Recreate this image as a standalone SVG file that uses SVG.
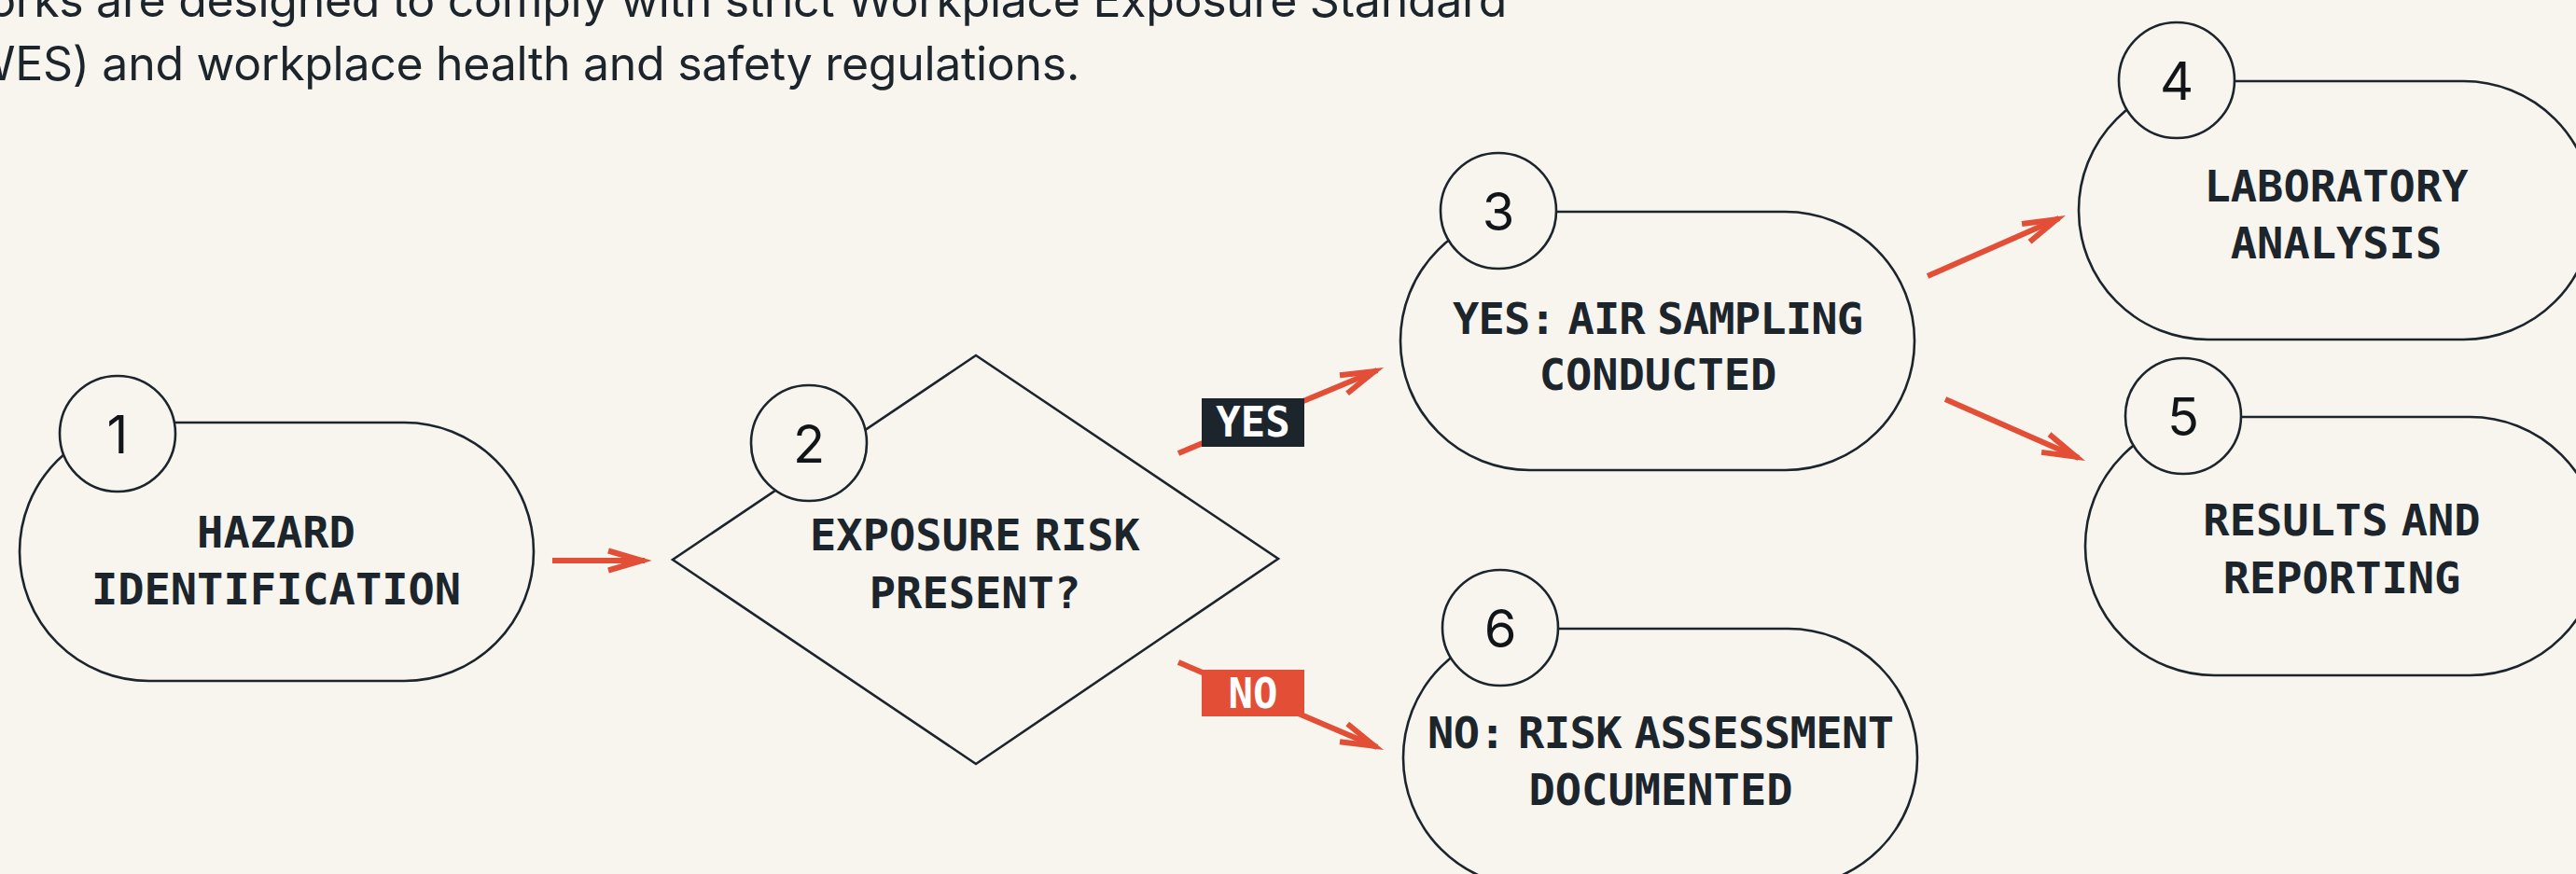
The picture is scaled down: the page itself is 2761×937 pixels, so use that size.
<svg xmlns="http://www.w3.org/2000/svg" width="2761" height="937" viewBox="0 0 2761 937">
<defs>
<style>
.bg{fill:#F8F5EF}
.shape{fill:#F8F5EF;stroke:#1D252C;stroke-width:2.6}
.lbl{font-family:"DejaVu Sans Mono","Liberation Mono",monospace;font-weight:bold;font-size:47px;fill:#1D252C;text-anchor:middle;word-spacing:-14px}
.num{font-family:Inter,"Liberation Sans",sans-serif;font-size:56px;fill:#111518;text-anchor:middle}
.head{font-family:Inter,"Liberation Sans",sans-serif;font-size:50px;letter-spacing:-0.3px;fill:#1D252C;text-anchor:end}
.conn{fill:none;stroke:#E24E36;stroke-width:6;marker-end:url(#arr)}
.tag{font-family:"DejaVu Sans Mono","Liberation Mono",monospace;font-weight:bold;font-size:44px;fill:#FFFFFF;text-anchor:middle}
</style>
<marker id="arr" viewBox="-44 -18 60 36" markerWidth="60" markerHeight="36" refX="3" refY="0" orient="auto" markerUnits="userSpaceOnUse" overflow="visible">
<path d="M-36,-10.5 L0,0 L-36,10.5" fill="none" stroke="#E24E36" stroke-width="6" stroke-linejoin="miter" stroke-miterlimit="10"/>
</marker>
</defs>
<rect class="bg" x="0" y="0" width="2761" height="937"/>
<g id="header">
<text class="head" x="1615" y="18">orks are designed to comply with strict Workplace Exposure Standard</text>
<text class="head" x="1157" y="86">WES) and workplace health and safety regulations.</text>
</g>
<g id="connectors">
<line class="conn" x1="592" y1="601" x2="691" y2="601"/>
<line class="conn" x1="1263" y1="486" x2="1476" y2="397"/>
<line class="conn" x1="1263" y1="710" x2="1476" y2="801"/>
<line class="conn" x1="2066" y1="296" x2="2207" y2="234"/>
<line class="conn" x1="2085" y1="428" x2="2228" y2="491"/>
<g id="label-yes">
<rect x="1288" y="427" width="110" height="52" fill="#1D252C"/>
<text class="tag" x="1343" y="468">YES</text>
</g>
<g id="label-no">
<rect x="1288" y="718" width="110" height="50" fill="#E24E36"/>
<text class="tag" x="1343" y="759">NO</text>
</g>
</g>
<g id="node1">
<rect class="shape" x="21" y="453" width="551" height="277" rx="138.5"/>
<circle class="shape" cx="126" cy="465" r="62"/>
<text class="num" x="126" y="486">1</text>
<text class="lbl" x="296" y="587">HAZARD</text>
<text class="lbl" x="296" y="648">IDENTIFICATION</text>
</g>
<g id="node2">
<polygon class="shape" points="1046,381 1370,599 1046,819 721,600"/>
<circle class="shape" cx="867" cy="475" r="62"/>
<text class="num" x="867" y="496">2</text>
<text class="lbl" x="1045" y="590">EXPOSURE RISK</text>
<text class="lbl" x="1045" y="652">PRESENT?</text>
</g>
<g id="node3">
<rect class="shape" x="1501" y="227" width="551" height="277" rx="138.5"/>
<circle class="shape" cx="1606" cy="226" r="62"/>
<text class="num" x="1606" y="247">3</text>
<text class="lbl" x="1777" y="358" textLength="440">YES: AIR SAMPLING</text>
<text class="lbl" x="1777" y="418">CONDUCTED</text>
</g>
<g id="node4">
<rect class="shape" x="2228" y="87" width="551" height="277" rx="138.5"/>
<circle class="shape" cx="2333" cy="86" r="62"/>
<text class="num" x="2333" y="107">4</text>
<text class="lbl" x="2504" y="216">LABORATORY</text>
<text class="lbl" x="2504" y="277">ANALYSIS</text>
</g>
<g id="node5">
<rect class="shape" x="2235" y="447" width="551" height="277" rx="138.5"/>
<circle class="shape" cx="2340" cy="446" r="62"/>
<text class="num" x="2340" y="467">5</text>
<text class="lbl" x="2510" y="574">RESULTS AND</text>
<text class="lbl" x="2510" y="636">REPORTING</text>
</g>
<g id="node6">
<rect class="shape" x="1504" y="674" width="551" height="277" rx="138.5"/>
<circle class="shape" cx="1608" cy="673" r="62"/>
<text class="num" x="1608" y="694">6</text>
<text class="lbl" x="1780" y="802" textLength="500">NO: RISK ASSESSMENT</text>
<text class="lbl" x="1780" y="863">DOCUMENTED</text>
</g>
</svg>
